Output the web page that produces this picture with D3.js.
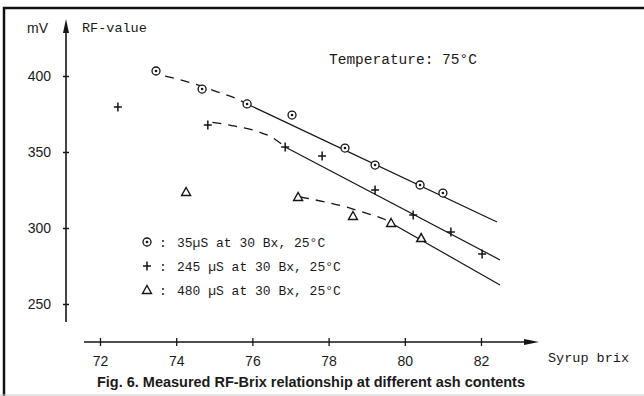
<!DOCTYPE html>
<html>
<head>
<meta charset="utf-8">
<script src="https://cdn.jsdelivr.net/npm/d3@7"></script>
<style>
	body	{ margin: 0; background: #fff; }
	svg		{ display: block; }
	.mono	{ font-family: 'Liberation Mono', 'DejaVu Sans Mono', monospace; fill: #1a1a1a; }
	.sans	{ font-family: 'Liberation Sans', Arial, sans-serif; fill: #1a1a1a; }
</style>
</head>
<body>
<div id="root"></div>
<script>
const svg_dest	= '#root';
const canvas_w	= 644;
const canvas_h	= 396;

// axes
const x_ticks	= [72, 74, 76, 78, 80, 82];
const y_ticks	= [250, 300, 350, 400];

// 35 uS series (circle with dot)
const s35_brix	= [73.47, 74.68, 75.86, 77.04, 78.43, 79.22, 80.40, 81.00];
const s35_rf	= [403.3, 391.4, 381.6, 374.3, 352.6, 341.4, 328.3, 323.0];
const s35_dash	= [[73.71, 400.0], [74.49, 394.7], [75.02, 390.1], [75.60, 384.9], [75.86, 381.6]];
const s35_fit	= [[75.86, 381.6], [82.42, 304.0]];

// 245 uS series (plus)
const s245_brix	= [72.47, 74.83, 76.86, 77.83, 79.22, 80.22, 81.21, 82.03];
const s245_rf	= [379.6, 367.8, 353.3, 347.4, 325.0, 308.6, 297.4, 282.9];
const s245_dash	= [[74.95, 369.5], [75.55, 367.0], [76.10, 363.8], [76.50, 359.8], [76.86, 353.3]];
const s245_fit	= [[76.86, 353.3], [82.50, 279.0]];

// 480 uS series (triangle)
const s480_brix	= [74.26, 77.20, 78.64, 79.64, 80.43];
const s480_rf	= [323.7, 320.4, 307.9, 303.3, 293.4];
const s480_dash	= [[77.25, 320.4], [78.04, 316.4], [78.46, 313.8], [78.96, 309.9], [79.45, 305.9], [79.64, 303.3]];
const s480_fit	= [[79.64, 303.3], [82.50, 262.5]];

const lgnd_val	= [
	{ shape: 'dot', text: '35µS at 30 Bx, 25°C' },
	{ shape: 'plus', text: '245 µS at 30 Bx, 25°C' },
	{ shape: 'tri', text: '480 µS at 30 Bx, 25°C' },
];

const caption	= 'Fig. 6. Measured RF-Brix relationship at different ash contents';

const ink		= '#151515';

let svg		= d3.select(svg_dest).append('svg')
	.attr('width', canvas_w)
	.attr('height', canvas_h);

let x		= d3.scaleLinear().domain([72, 82]).range([100, 481]);
let y		= d3.scaleLinear().domain([250, 400]).range([304, 76]);

// frame of the scanned figure
svg.append('path')
	.attr('d', 'M4,396 L4,8 L644,8')
	.attr('fill', 'none')
	.attr('stroke', '#111')
	.attr('stroke-width', 2.5);
svg.append('line')
	.attr('x1', 0).attr('x2', 644).attr('y1', 395).attr('y2', 395)
	.attr('stroke', '#ccc').attr('stroke-width', 1);

// y axis
let y_axis	= svg.append('g')
	.attr('transform', 'translate(' + 66 + ',0)')
	.call(d3.axisLeft(y).tickValues(y_ticks).tickSize(3).tickPadding(12));

y_axis.select('.domain').remove();
y_axis.selectAll('.tick line').attr('x1', -3).attr('x2', 3).attr('stroke', ink).attr('stroke-width', 1.5);
y_axis.selectAll('.tick text').attr('class', 'sans').style('font-size', '14px').attr('fill', ink);

svg.append('line')
	.attr('x1', 66).attr('x2', 66).attr('y1', 322).attr('y2', 28)
	.attr('stroke', ink).attr('stroke-width', 1.6);
svg.append('path')
	.attr('d', 'M66,19 L69,33 L63,33 Z')
	.attr('fill', ink);

// x axis
let x_pos	= 342;
let x_axis	= svg.append('g')
	.attr('transform', 'translate(0,' + x_pos + ')')
	.call(d3.axisBottom(x).tickValues(x_ticks).tickSize(4).tickPadding(10));

x_axis.select('.domain').remove();
x_axis.selectAll('.tick line').attr('y1', -4).attr('y2', 4).attr('stroke', ink).attr('stroke-width', 1.3);
x_axis.selectAll('.tick text').attr('class', 'sans').style('font-size', '14px').attr('fill', ink);

svg.append('line')
	.attr('x1', 84).attr('x2', 530).attr('y1', x_pos).attr('y2', x_pos)
	.attr('stroke', ink).attr('stroke-width', 1.6);
svg.append('path')
	.attr('d', 'M539,' + x_pos + ' L524,' + (x_pos - 3) + ' L524,' + (x_pos + 3) + ' Z')
	.attr('fill', ink);

// axis titles
svg.append('text').attr('class', 'sans').attr('x', 27).attr('y', 33).style('font-size', '14px').text('mV');
svg.append('text').attr('class', 'mono').attr('x', 82).attr('y', 32).style('font-size', '13.5px').text('RF-value');
svg.append('text').attr('class', 'mono').attr('x', 548).attr('y', 362).style('font-size', '13.5px').text('Syrup brix');
svg.append('text').attr('class', 'mono').attr('x', 329).attr('y', 64).style('font-size', '14.5px').text('Temperature: 75°C');

// caption
svg.append('text')
	.attr('class', 'sans')
	.attr('x', 311)
	.attr('y', 387)
	.attr('text-anchor', 'middle')
	.attr('textLength', 428)
	.attr('lengthAdjust', 'spacingAndGlyphs')
	.style('font-size', '14px')
	.style('font-weight', 'bold')
	.text(caption);

// curves
let line	= d3.line().x((d) => x(d[0])).y((d) => y(d[1])).curve(d3.curveMonotoneX);

[s35_dash, s245_dash, s480_dash].forEach((o) => {
	svg.append('path')
		.attr('d', line(o))
		.attr('fill', 'none')
		.attr('stroke', ink)
		.attr('stroke-width', 1.3)
		.attr('stroke-dasharray', '9,7');
});

[s35_fit, s245_fit, s480_fit].forEach((o) => {
	svg.append('path')
		.attr('d', line(o))
		.attr('fill', 'none')
		.attr('stroke', ink)
		.attr('stroke-width', 1.2);
});

// markers
function drawMarker(g, shape) {
	if (shape == 'dot') {
		g.append('circle').attr('r', 4).attr('fill', '#fff').attr('stroke', ink).attr('stroke-width', 1.3);
		g.append('circle').attr('r', 1.3).attr('fill', ink);
	} else if (shape == 'plus') {
		g.append('path').attr('d', 'M-4,0 L4,0 M0,-4.5 L0,4.5').attr('stroke', ink).attr('stroke-width', 1.5);
	} else {
		g.append('path').attr('d', 'M0,-4.5 L4.5,3.5 L-4.5,3.5 Z').attr('fill', '#fff').attr('stroke', ink).attr('stroke-width', 1.4);
	}
}

let series	= [
	{ shape: 'dot', xs: s35_brix, ys: s35_rf },
	{ shape: 'plus', xs: s245_brix, ys: s245_rf },
	{ shape: 'tri', xs: s480_brix, ys: s480_rf },
];

series.forEach((s) => {
	svg.append('g').selectAll('g')
		.data(d3.zip(s.xs, s.ys)).enter().append('g')
		.attr('transform', (d) => ('translate(' + x(d[0]) + ',' + y(d[1]) + ')'))
		.each(function() { drawMarker(d3.select(this), s.shape); });
});

// legend
let legends	= svg.append('g')
	.attr('transform', 'translate(147,242)')
	.selectAll('.legend').data(lgnd_val).enter().append('g')
	.attr('class', 'legend')
	.attr('transform', (o, i) => ('translate(0,' + (i * 24) + ')'));

legends.each(function(o) { drawMarker(d3.select(this), o.shape); });

legends.append('text')
	.attr('class', 'mono')
	.attr('x', 12)
	.attr('y', 5)
	.style('font-size', '13px')
	.text(':');

legends.append('text')
	.attr('class', 'mono')
	.attr('x', 30)
	.attr('y', 5)
	.style('font-size', '13px')
	.text((o) => o.text);
</script>
</body>
</html>
